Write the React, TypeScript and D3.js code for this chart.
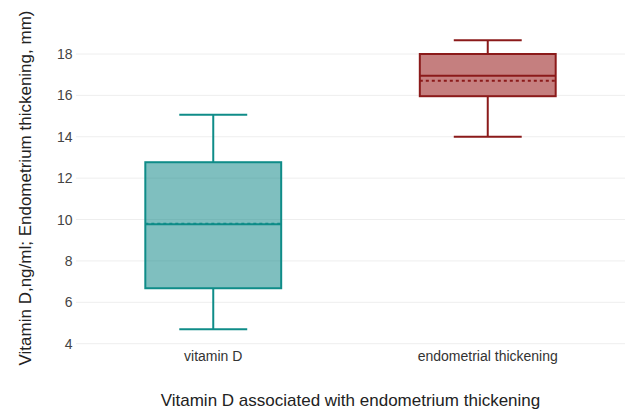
import React from "react";
import * as d3 from "d3";

const categories = ["vitamin D", "endometrial thickening"];
const lowerWhisker = [4.7, 14.0];
const q1 = [6.68, 15.96];
const median = [9.77, 16.95];
const meanValues = [9.8, 16.71];
const q3 = [12.77, 18.0];
const upperWhisker = [15.07, 18.66];
const strokeColors = ["#0f8c88", "#8b1a1a"];
const fillColors = ["rgba(0,128,128,0.5)", "rgba(139,0,0,0.5)"];
const yTicks = [4, 6, 8, 10, 12, 14, 16, 18];
const xTitle = "Vitamin D associated with endometrium thickening";
const yTitle = "Vitamin D,ng/ml; Endometrium thickening, mm)";

const W = 629;
const H = 413;
const left = 76;
const right = 625;

export default function App() {
  const x = d3.scaleBand<string>().domain(categories).range([left, right]);
  const y = d3.scaleLinear().domain([4, 18]).range([343.7, 54]);
  const bw = x.bandwidth();
  const boxW = bw * 0.495;
  const capW = boxW / 2;
  const font = "Liberation Sans, Arial, sans-serif";

  return (
    <svg width={W} height={H} style={{ position: "absolute", left: 0, top: 0, background: "#fff" }}>
      <g>
        {yTicks.map((t) => (
          <g key={t}>
            <line x1={left} x2={right} y1={y(t)} y2={y(t)} stroke="#eeeeee" strokeWidth={1} />
            <text x={72.5} y={y(t)} dy="0.36em" textAnchor="end" fontFamily={font} fontSize={14} fill="#444">
              {t}
            </text>
          </g>
        ))}
      </g>
      {categories.map((c, i) => {
        const cx = (x(c) as number) + bw / 2;
        const col = strokeColors[i];
        return (
          <g key={c}>
            <line x1={cx} x2={cx} y1={y(q3[i])} y2={y(upperWhisker[i])} stroke={col} strokeWidth={2} />
            <line x1={cx} x2={cx} y1={y(q1[i])} y2={y(lowerWhisker[i])} stroke={col} strokeWidth={2} />
            <line x1={cx - capW / 2} x2={cx + capW / 2} y1={y(upperWhisker[i])} y2={y(upperWhisker[i])} stroke={col} strokeWidth={2} />
            <line x1={cx - capW / 2} x2={cx + capW / 2} y1={y(lowerWhisker[i])} y2={y(lowerWhisker[i])} stroke={col} strokeWidth={2} />
            <rect
              x={cx - boxW / 2}
              y={y(q3[i])}
              width={boxW}
              height={y(q1[i]) - y(q3[i])}
              fill={fillColors[i]}
              stroke={col}
              strokeWidth={2}
            />
            <line x1={cx - boxW / 2} x2={cx + boxW / 2} y1={y(median[i])} y2={y(median[i])} stroke={col} strokeWidth={2} />
            <line
              x1={cx - boxW / 2}
              x2={cx + boxW / 2}
              y1={y(meanValues[i])}
              y2={y(meanValues[i])}
              stroke={col}
              strokeWidth={2}
              strokeDasharray="3,3"
            />
            <text x={cx} y={361} textAnchor="middle" fontFamily={font} fontSize={14} fill="#333">
              {c}
            </text>
          </g>
        );
      })}
      <text x={(left + right) / 2} y={406} textAnchor="middle" fontFamily={font} fontSize={17} fill="#222">
        {xTitle}
      </text>
      <text
        transform={`translate(31,188) rotate(-90)`}
        textAnchor="middle"
        fontFamily={font}
        fontSize={17}
        fill="#222"
      >
        {yTitle}
      </text>
    </svg>
  );
}
